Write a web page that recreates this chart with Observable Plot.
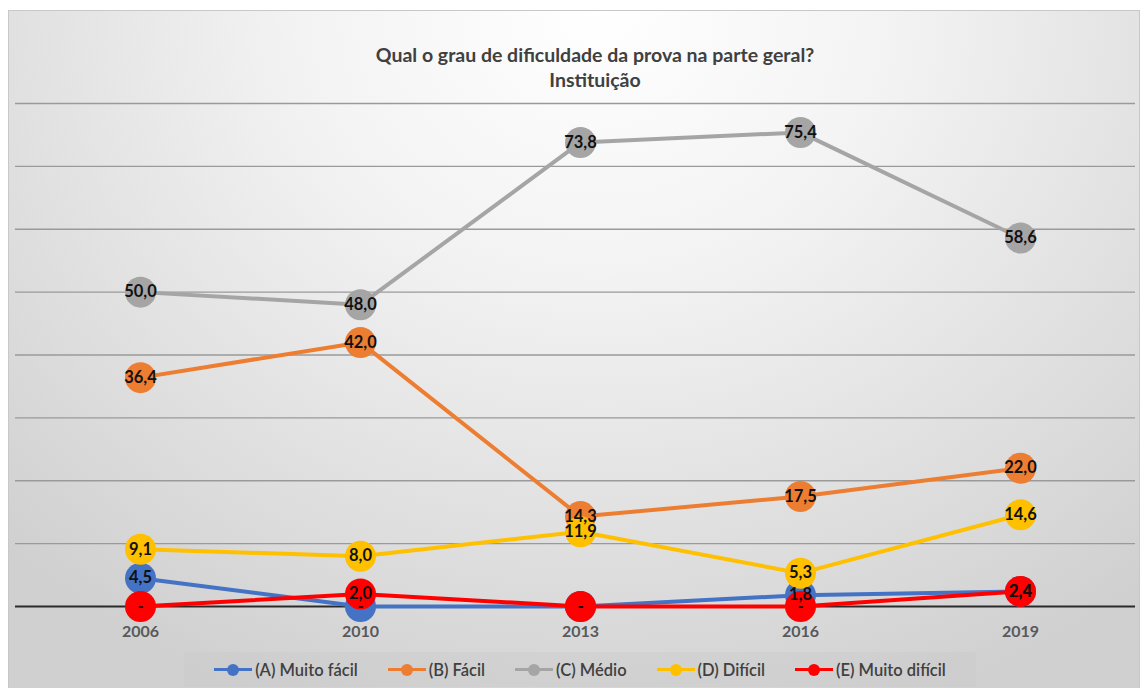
<!DOCTYPE html>
<html>
<head>
<meta charset="utf-8">
<script src="https://cdn.jsdelivr.net/npm/d3@7"></script>
<script src="https://cdn.jsdelivr.net/npm/@observablehq/plot@0.6"></script>
<style>
  html, body { margin: 0; padding: 0; background: #ffffff; }
  body { width: 1144px; height: 688px; overflow: hidden; font-family: Lato, "Open Sans", sans-serif; }
  #card {
    position: absolute; left: 8px; top: 10px; width: 1132px; height: 680px;
    box-sizing: border-box; border: 1px solid #c8c8c8;
    background: radial-gradient(ellipse 75% 110% at 52% 0%, #ffffff 0%, #f3f3f3 35%, #e0e0e0 70%, #d0d0d0 100%);
  }
  #title {
    position: absolute; left: 0; top: 31px; width: 100%; padding-left: 42px; box-sizing: border-box;
    text-align: center; font-weight: 700; font-size: 19.5px; line-height: 25px; color: #404040;
  }
  #chart { position: absolute; left: 0; top: 85px; }
  #legend {
    position: absolute; left: 175px; top: 641px; width: 792px; height: 35px;
    background: rgba(200,200,200,0.35); display: flex; align-items: center; justify-content: center;
    gap: 30px; font-size: 16.5px; font-weight: 600; color: #404040;
  }
  .item { display: flex; align-items: center; gap: 3px; }
  .sym { position: relative; width: 38px; height: 12px; }
  .sym .ln { position: absolute; left: 0; top: 4.5px; width: 38px; height: 3px; }
  .sym .dt { position: absolute; left: 13px; top: 0; width: 12px; height: 12px; border-radius: 6px; }
</style>
</head>
<body>
<div id="card">
  <div id="title">Qual o grau de dificuldade da prova na parte geral?<br>Instituição</div>
  <div id="chart"></div>
  <div id="legend"></div>
</div>
<script>
const years = ["2006", "2010", "2013", "2016", "2019"];
const seriesNames = ["(A) Muito fácil", "(B) Fácil", "(C) Médio", "(D) Difícil", "(E) Muito difícil"];
const seriesColors = ["#4472C4", "#ED7D31", "#A5A5A5", "#FFC000", "#FF0000"];
const muitoFacil   = [4.5, 0, 0, 1.8, 2.4];
const facil        = [36.4, 42.0, 14.3, 17.5, 22.0];
const medio        = [50.0, 48.0, 73.8, 75.4, 58.6];
const dificil      = [9.1, 8.0, 11.9, 5.3, 14.6];
const muitoDificil = [0, 2.0, 0, 0, 2.4];
const gridTicks = [10, 20, 30, 40, 50, 60, 70, 80];

const seriesValues = [muitoFacil, facil, medio, dificil, muitoDificil];
const rows = seriesNames.flatMap((name, i) =>
  years.map((year, j) => ({ series: name, year, value: seriesValues[i][j] })));

const fmt = v => v === 0 ? "-" : v.toFixed(1).replace(".", ",");

const seriesMarks = seriesNames.flatMap((name, i) => {
  const d = rows.filter(r => r.series === name);
  return [
    Plot.line(d, { x: "year", y: "value", stroke: seriesColors[i], strokeWidth: 4 }),
    Plot.dot(d, { x: "year", y: "value", r: 15.5, fill: seriesColors[i], stroke: "none" })
  ];
});

const chart = Plot.plot({
  width: 1130,
  height: 555,
  marginLeft: 0,
  marginRight: 0,
  marginTop: 0,
  marginBottom: 0,
  style: { background: "transparent", fontFamily: "Lato, 'Open Sans', sans-serif", overflow: "visible" },
  x: { type: "point", domain: years, range: [130, 1012], padding: 0, axis: null, label: null },
  y: { domain: [0, 80], range: [510, 7], axis: null, label: null },
  marks: [
    Plot.ruleY(gridTicks, { stroke: "#9a9a9a", strokeWidth: 1.3, insetLeft: 6, insetRight: 4 }),
    Plot.ruleY([0], { stroke: "#2a2a2a", strokeWidth: 2, insetLeft: 6, insetRight: 4 }),
    ...seriesMarks,
    Plot.text(rows, { x: "year", y: "value", text: d => fmt(d.value), fontSize: 16.5, fontWeight: 700, fill: "#111111" }),
    Plot.axisX({ tickSize: 0, tickPadding: 19, fontSize: 16, fontWeight: 700, color: "#595959", anchor: "bottom", y: 0, label: null })
  ]
});
document.getElementById("chart").appendChild(chart);

const legend = document.getElementById("legend");
seriesNames.forEach((name, i) => {
  const it = document.createElement("div");
  it.className = "item";
  it.innerHTML = `<div class="sym"><div class="ln" style="background:${seriesColors[i]}"></div><div class="dt" style="background:${seriesColors[i]}"></div></div><span>${name}</span>`;
  legend.appendChild(it);
});
</script>
</body>
</html>
